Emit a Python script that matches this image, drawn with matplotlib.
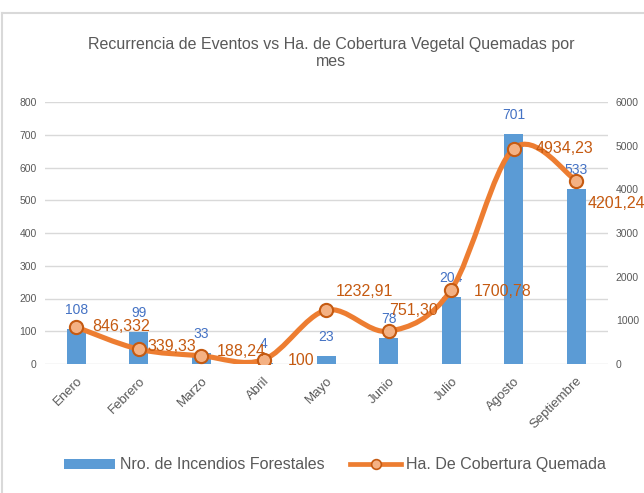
import matplotlib.pyplot as plt
import numpy as np
from matplotlib.path import Path
from matplotlib.patches import PathPatch
from matplotlib.lines import Line2D
from matplotlib.patches import Patch

plt.rcParams['font.family'] = ['Liberation Sans', 'DejaVu Sans']

#-------------------------------------
# data
meses = ['Enero', 'Febrero', 'Marzo', 'Abril', 'Mayo', 'Junio', 'Julio', 'Agosto', 'Septiembre']
incendios = [108, 99, 33, 4, 23, 78, 204, 701, 533]
hectareas = [846.332, 339.33, 188.24, 100, 1232.91, 751.30, 1700.78, 4934.23, 4201.24]
etiquetas_ha = ['846,332', '339,33', '188,24', '100', '1232,91', '751,30', '1700,78', '4934,23', '4201,24']

# label offsets (pixels) for the orange data labels
off_ha = [(16, 1), (9, 3), (16, 4), (24, -1), (10, 19), (0, 21), (23, -2), (22, 0), (11, -23)]
#-------------------------------------

BAR = '#5B9BD5'
LINE = '#ED7D31'
DARK_OR = '#C55A11'
GRAY = '#595959'
GRID = '#D9D9D9'

fig = plt.figure(figsize=(6.44, 4.93), dpi=100)
ax = fig.add_axes([45 / 644, 1 - 364 / 493, 562.5 / 644, 262 / 493])
ax2 = ax.twinx()

x = np.arange(len(meses))
ax.bar(x, incendios, width=0.3, color=BAR, zorder=2)
ax.set_xlim(-0.5, len(meses) - 0.5)
ax.set_ylim(0, 800)
ax.set_yticks(np.arange(0, 801, 100))
ax.grid(axis='y', color=GRID, lw=1, zorder=0)
ax.set_axisbelow(True)
for s in ax.spines.values():
    s.set_visible(False)
for s in ax2.spines.values():
    s.set_visible(False)
ax.tick_params(axis='both', length=0, labelsize=7.5, labelcolor=GRAY)
ax.tick_params(axis='y', pad=6)
ax.set_xticks(x)
ax.set_xticklabels(meses, rotation=45, ha='right', rotation_mode='anchor', fontsize=9.5, color=GRAY)
ax.tick_params(axis='x', pad=8)

for xi, v in zip(x, incendios):
    ax.annotate(str(v), (xi, v), xytext=(0, 19), textcoords='offset pixels',
                ha='center', va='center', color='#4472C4', fontsize=10, zorder=5)

# smoothed line (bezier through the points, like the spreadsheet chart)
pts = np.column_stack([x, hectareas]).astype(float)
verts = [pts[0]]
codes = [Path.MOVETO]
n = len(pts)
for i in range(n - 1):
    p0 = pts[i - 1] if i > 0 else pts[i]
    p1 = pts[i]
    p2 = pts[i + 1]
    p3 = pts[i + 2] if i + 2 < n else pts[i + 1]
    verts += [p1 + (p2 - p0) / 6, p2 - (p3 - p1) / 6, p2]
    codes += [Path.CURVE4] * 3
ax2.add_patch(PathPatch(Path(verts, codes), fill=False, edgecolor=LINE, lw=3.7,
                        capstyle='round', joinstyle='round', zorder=3))
ax2.plot(x, hectareas, 'o', ms=9.5, mfc='#F4B183', mec=DARK_OR, mew=1.5, zorder=4)
ax2.set_ylim(0, 6000)
ax2.set_yticks(np.arange(0, 6001, 1000))
ax2.tick_params(axis='y', length=0, labelsize=7.5, labelcolor=GRAY, pad=6)

for xi, v, t, o in zip(x, hectareas, etiquetas_ha, off_ha):
    ax2.annotate(t, (xi, v), xytext=o, textcoords='offset pixels',
                 ha='left', va='center', color=DARK_OR, fontsize=11.5, zorder=6,
                 annotation_clip=False)

fig.text(331 / 644, 1 - 44 / 493, 'Recurrencia de Eventos vs Ha. de Cobertura Vegetal Quemadas por',
         ha='center', va='center', fontsize=11.5, color=GRAY)
fig.text(331 / 644, 1 - 62 / 493, 'mes', ha='center', va='center', fontsize=11.5, color=GRAY)

handles = [Patch(facecolor=BAR, edgecolor='none'),
           Line2D([], [], color=LINE, lw=3.4, marker='o', ms=7, mfc='#F4B183', mec=DARK_OR, mew=1.2)]
fig.legend(handles, ['Nro. de Incendios Forestales', 'Ha. De Cobertura Quemada'],
           loc='center', bbox_to_anchor=(335 / 644, 1 - 465 / 493), ncol=2, frameon=False,
           fontsize=11.5, labelcolor=GRAY, handlelength=3.2, handleheight=0.6,
           handletextpad=0.3, columnspacing=1.6)

# chart-area border (only top and left edges are visible in the crop)
fig.add_artist(Line2D([2 / 644, 1], [1 - 13 / 493, 1 - 13 / 493], color=GRID, lw=1.5))
fig.add_artist(Line2D([2 / 644, 2 / 644], [0, 1 - 13 / 493], color=GRID, lw=1.5))

fig.savefig('out.png', dpi=100)
